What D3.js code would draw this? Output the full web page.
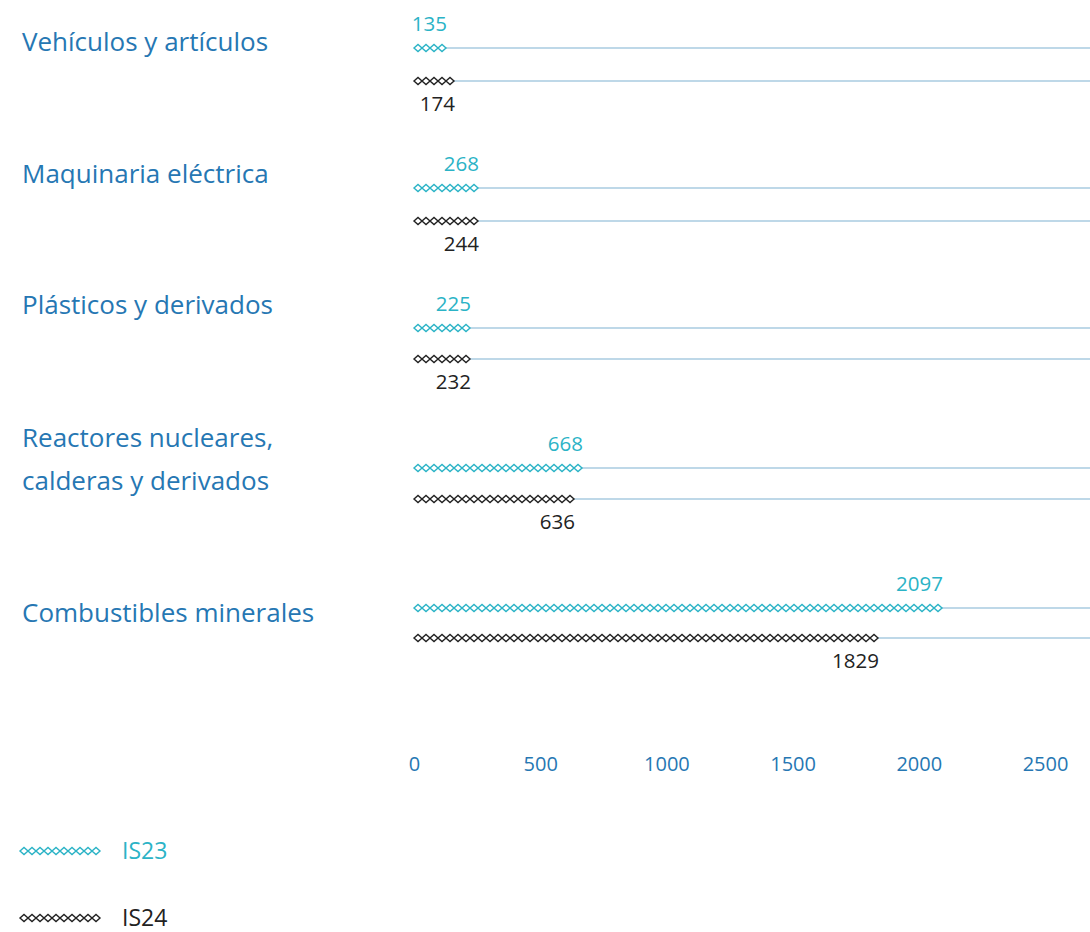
<!DOCTYPE html>
<html>
<head>
<meta charset="utf-8">
<script src="https://cdn.jsdelivr.net/npm/d3@7"></script>
<style>
  html, body { margin: 0; padding: 0; background: #ffffff; }
  svg { display: block; font-family: "Open Sans", "Noto Sans", sans-serif; }
</style>
</head>
<body>
<svg id="chart" width="1090" height="932"></svg>
<script>
// ---- data ----
const categories = [
  ["Vehículos y artículos"],
  ["Maquinaria eléctrica"],
  ["Plásticos y derivados"],
  ["Reactores nucleares,", "calderas y derivados"],
  ["Combustibles minerales"]
];
const seriesNames = ["IS23", "IS24"];
const is23 = [135, 268, 225, 668, 2097];
const is24 = [174, 244, 232, 636, 1829];
const tickValues = [0, 500, 1000, 1500, 2000, 2500];

// ---- layout / style ----
const W = 1090, H = 932;
const colors = { IS23: "#2bb3c6", IS24: "#222222" };
const labelBlue = "#2677b3";
const gridColor = "#a9cbe0";
const dw = 8, dh = 7;              // diamond width / height
const labelDy = [-6, -14, -23, -30, 5]; // category label offset from top line
const lineGap = [33, 33, 31, 31, 30];

const svg = d3.select("#chart");
const x = d3.scaleLinear().domain([0, 2500]).range([414, 1045]);
const rowY = d3.scaleLinear().domain([0, 4]).range([48, 608]);

function diamondPath(cx, cy) {
  return `M${cx - dw / 2},${cy}L${cx},${cy - dh / 2}L${cx + dw / 2},${cy}L${cx},${cy + dh / 2}Z`;
}

const series = [
  { name: "IS23", values: is23 },
  { name: "IS24", values: is24 }
];

categories.forEach((cat, i) => {
  const y0 = rowY(i);
  const g = svg.append("g");
  cat.forEach((line, k) => {
    g.append("text")
      .attr("x", 22)
      .attr("y", y0 + labelDy[i] + k * 43)
      .attr("dy", "0.35em")
      .attr("fill", labelBlue)
      .attr("font-size", 26)
      .text(line);
  });

  series.forEach((s, j) => {
    const ly = y0 + (j === 0 ? 0 : lineGap[i]);
    const v = s.values[i];
    g.append("line")
      .attr("x1", x(0)).attr("x2", W)
      .attr("y1", ly).attr("y2", ly)
      .attr("stroke", gridColor)
      .attr("stroke-width", 1.5);
    const n = Math.max(1, Math.round((x(v) - x(0)) / dw));
    const pts = d3.range(n).map(k => x(0) + dw * (k + 0.5));
    g.selectAll(null).data(pts).enter().append("path")
      .attr("d", cx => diamondPath(cx, ly))
      .attr("fill", "#ffffff")
      .attr("stroke", colors[s.name])
      .attr("stroke-width", 1.4);
    const endX = x(0) + n * dw;
    g.append("text")
      .attr("x", endX + 1)
      .attr("y", j === 0 ? ly - 24 : ly + 23)
      .attr("dy", "0.35em")
      .attr("text-anchor", "end")
      .attr("fill", s.name === "IS23" ? colors.IS23 : "#222222")
      .attr("font-size", 20.5)
      .text(v);
  });
});

// x axis (labels only)
const axis = d3.axisBottom(x).tickValues(tickValues).tickSize(0).tickPadding(0).tickFormat(d3.format("d"));
const ax = svg.append("g").attr("transform", "translate(0,764)").call(axis);
ax.attr("font-family", null).attr("font-size", null);
ax.select(".domain").remove();
ax.selectAll("text")
  .attr("y", 0)
  .attr("dy", "0.35em")
  .attr("fill", labelBlue)
  .attr("font-size", 20);

// legend
const legend = svg.append("g");
seriesNames.forEach((name, j) => {
  const ly = 851 + j * 67;
  const pts = d3.range(10).map(k => 20 + dw * (k + 0.5));
  legend.selectAll(null).data(pts).enter().append("path")
    .attr("d", cx => diamondPath(cx, ly))
    .attr("fill", "#ffffff")
    .attr("stroke", colors[name])
    .attr("stroke-width", 1.4);
  legend.append("text")
    .attr("x", 122)
    .attr("y", ly)
    .attr("dy", "0.35em")
    .attr("fill", colors[name])
    .attr("font-size", 23)
    .text(name);
});
</script>
</body>
</html>
